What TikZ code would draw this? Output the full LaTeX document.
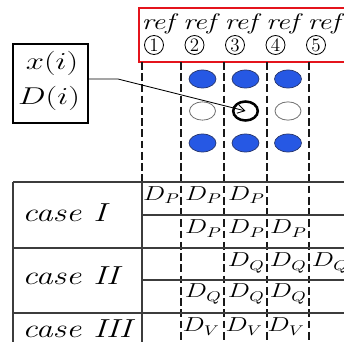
\documentclass[tikz,border=0pt]{standalone}
\usepackage{graphicx}
\usepackage{amsmath}
\definecolor{refred}{RGB}{228, 20, 28}
\definecolor{dotblue}{RGB}{38, 88, 228}
\definecolor{dotedge}{RGB}{40, 55, 110}
\definecolor{gridgray}{RGB}{60, 60, 60}
\usetikzlibrary{
    shapes.geometric,
    arrows.meta,
    positioning,
    calc
}
% text in the figure is drawn wide
\newcommand{\wide}[2][1.4]{\scalebox{#1}[1]{#2}}

\begin{document}
\begin{tikzpicture}[x=0.025cm, y=-0.025cm,
    colline/.style={dash pattern=on 5.5pt off 2.5pt, line width=0.85pt, black!90},
    gridline/.style={line width=0.9pt, gridgray},
    fulldot/.style={ellipse, fill=dotblue, draw=dotedge, line width=0.5pt,
        minimum width=19.2pt, minimum height=12.8pt, inner sep=0pt},
    emptydot/.style={ellipse, draw=black!55, line width=0.6pt,
        minimum width=18.5pt, minimum height=13pt, inner sep=0pt},
    curdot/.style={ellipse, draw=black, line width=1.8pt,
        minimum width=17.5pt, minimum height=13.5pt, inner sep=0pt},
    numcirc/.style={circle, draw, line width=0.6pt, minimum size=13.5pt,
        inner sep=0pt, font=\fontsize{13.5}{14}\selectfont},
    reftext/.style={inner sep=0pt, font=\fontsize{16}{16}\selectfont},
    casetext/.style={inner sep=0pt, anchor=base west, font=\fontsize{18.5}{20}\selectfont},
    cell/.style={inner sep=0pt, anchor=base east, font=\fontsize{14}{15}\selectfont},
    link/.style={line width=0.6pt, -{Straight Barb[length=5pt, width=6pt]}}]
    \useasboundingbox (0,0) rectangle (344,342);
    \clip (0,0) rectangle (344,342);

    % reference header
    \draw[refred, line width=1.9pt] (139,8) rectangle (370,62);
    \foreach \i in {1,...,5} {
        \node[reftext] (ref\i) at ({160+41.5*(\i-1)},24) {\wide[1.3]{\textit{ref}}};
        \node[numcirc] (num\i) at ({154+40.5*(\i-1)},45) {\i};
    }

    % column guides
    \foreach \x in {142,181,224,267,309}
        \draw[colline] (\x,62) -- (\x,342);

    % search window
    \foreach \r/\yy in {1/79,3/143}
        \foreach \c/\xx in {2/202.5,3/245.5,4/288}
            \node[fulldot] (dot\r\c) at (\xx,\yy) {};
    \node[emptydot] (dot22) at (202.5,111) {};
    \node[curdot] (dot23) at (245.5,111) {};
    \node[emptydot] (dot24) at (288,111) {};

    % current pixel box
    \node[draw, line width=1.1pt, minimum width=53.4pt, minimum height=56.2pt,
          inner sep=0pt] (vars) at (50.5,83.5) {};
    \node[inner sep=0pt, anchor=base, font=\fontsize{16.5}{17}\selectfont] (xi) at (52,69) {\wide[1.35]{$x(i)$}};
    \node[inner sep=0pt, anchor=base, font=\fontsize{16.5}{17}\selectfont] (di) at (49,104) {\wide[1.35]{$D(i)$}};
    \coordinate (kink) at (118,79);
    \draw[link] (vars.east |- kink) -- (kink) -- (dot23.center);

    % table of cases
    \draw[gridline] (13,182) -- (370,182);
    \draw[gridline] (13,182) -- (13,370);
    \draw[gridline] (142,182) -- (142,370);
    \draw[gridline] (13,248) -- (370,248);
    \draw[gridline] (13,313) -- (370,313);
    \draw[gridline] (142,215) -- (370,215);
    \draw[gridline] (142,280) -- (370,280);

    \node[casetext] (case1) at (22,221) {\wide[1.3]{\textit{case I}}};
    \node[casetext] (case2) at (22,285) {\wide[1.3]{\textit{case II}}};
    \node[casetext] (case3) at (22,337) {\wide[1.3]{\textit{case III}}};

    % entries: name/right edge/baseline
    \foreach \n/\xr/\yb/\s in {
        p11/180/200/P, p12/222/200/P, p13/265/200/P,
        p22/222/234/P, p23/265/234/P, p24/307/234/P,
        q13/265/267/Q, q14/307/267/Q, q15/349/267/Q,
        q22/222/298/Q, q23/265/298/Q, q24/307/298/Q,
        v2/220/332/V, v3/263/332/V, v4/305/332/V} {
        \node[cell] (\n) at (\xr,\yb) {\wide[1.3]{$D_\s$}};
    }
\end{tikzpicture}
\end{document}
